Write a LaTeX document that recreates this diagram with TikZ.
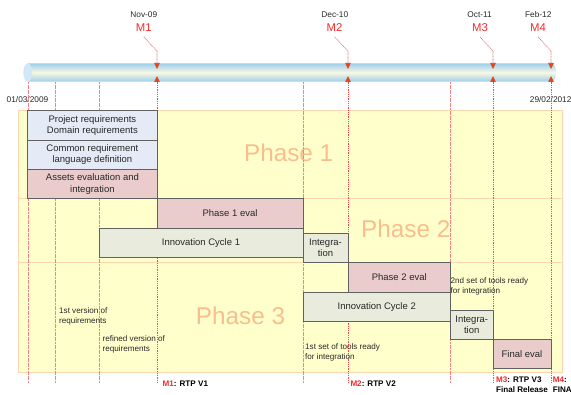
\documentclass[tikz,border=0pt]{standalone}
\usepackage{fontspec}
\setmainfont{Liberation Sans}
\usetikzlibrary{arrows.meta,positioning}
\definecolor{reqblue}{RGB}{228,235,247}
\definecolor{evalpink}{RGB}{234,204,204}
\definecolor{cyclegreen}{RGB}{233,236,221}
\definecolor{phaseyellow}{RGB}{255,255,204}
\definecolor{phaseedge}{RGB}{251,214,176}
\definecolor{phasetext}{RGB}{249,190,142}
\definecolor{barblue}{RGB}{158,205,236}
\definecolor{barlight}{RGB}{247,248,226}
\definecolor{barcap}{RGB}{210,232,246}
\definecolor{guidered}{RGB}{244,130,130}
\definecolor{mred}{RGB}{245,40,40}
\definecolor{tipred}{RGB}{226,72,30}
\definecolor{textgrey}{RGB}{40,40,40}

\begin{document}
\begin{tikzpicture}[x=1pt, y=-1pt,
    every node/.style={font=\fontsize{9.5}{11.3}\selectfont, text=textgrey},
    task/.style={draw=black!62, line width=0.7pt, minimum height=29.3pt,
      inner sep=0pt, outer sep=0pt, align=center},
    phasename/.style={font=\fontsize{24.3}{29}\selectfont, text=phasetext},
    note/.style={font=\fontsize{8.1}{10}\selectfont, inner sep=0pt, align=left, anchor=west},
    datelabel/.style={font=\fontsize{8.3}{10}\selectfont},
    mlabel/.style={font=\fontsize{11.3}{13}\selectfont, text=mred},
    mtext/.style={font=\fontsize{8.1}{10}\selectfont\bfseries, text=black, inner sep=0pt,
      align=left, anchor=west},
    guide/.style={draw=guidered, line width=0.5pt, dash pattern=on 2pt off 0.6pt},
    msline/.style={draw=mred!85, line width=0.8pt, dash pattern=on 1pt off 0.8pt,
      -{Triangle[width=5.5pt, length=6pt, color=tipred]}},
    pointer/.style={draw=guidered!90!black, line width=0.6pt, dash pattern=on 1pt off 0.6pt,
      -{Triangle[width=5.5pt, length=6pt, color=tipred]}}]
  \useasboundingbox (0,0) rectangle (571,395);

  % phase area
  \draw[phaseedge, fill=phaseyellow, line width=0.8pt] (18,110.7) rectangle (562,372);
  \draw[phaseedge, line width=0.8pt] (18,198.7) -- (562,198.7);
  \draw[phaseedge, line width=0.8pt] (18,262.7) -- (562,262.7);
  \node[phasename] (phase1) at (288.7,153.3) {Phase 1};
  \node[phasename] (phase2) at (405.8,229.3) {Phase 2};
  \node[phasename] (phase3) at (240.5,316) {Phase 3};

  % time bar
  \shade[top color=barblue, bottom color=barblue, middle color=barlight]
    (27.8,63.3) -- (551.5,63.3) arc[start angle=-90, end angle=90, x radius=4.5, y radius=9.2]
    -- (27.8,81.7) -- cycle;
  \fill[barcap] (27.8,72.5) ellipse[x radius=4.5, y radius=9.2];
  \node[datelabel] (start) at (27.5,99.3) {01/03/2009};
  \node[datelabel] (end) at (550.7,99.3) {29/02/2012};

  % guide lines
  \draw[guide] (27.8,82) -- (27.8,383);
  \draw[guide] (55,82) -- (55,383);
  \draw[guide] (99,82) -- (99,383);
  \draw[guide] (303,82) -- (303,383);
  \draw[guide] (450.5,82) -- (450.5,383);

  % milestones
  \node[datelabel] (d1) at (143.8,15) {Nov-09};
  \node[mlabel] (m1) at (143.8,28) {M1};
  \node[datelabel] (d2) at (334.8,15) {Dec-10};
  \node[mlabel] (m2) at (334.5,28) {M2};
  \node[datelabel] (d3) at (479.6,15) {Oct-11};
  \node[mlabel] (m3) at (480,28) {M3};
  \node[datelabel] (d4) at (538.3,15) {Feb-12};
  \node[mlabel] (m4) at (538,28) {M4};
  \coordinate (m1tip) at (157,69);
  \coordinate (m2tip) at (348,69);
  \coordinate (m3tip) at (493,69);
  \coordinate (m4tip) at (551,69);
  \coordinate (m1up) at (157,76);
  \coordinate (m2up) at (348,76);
  \coordinate (m3up) at (493,76);
  \coordinate (m4up) at (551,76);
  \coordinate (m1low) at (157,383);
  \coordinate (m2low) at (348,383);
  \coordinate (m3low) at (493,383);
  \coordinate (m4low) at (551,383);
  \draw[pointer] ([yshift=-1.5pt]m1.south) -- ([yshift=18pt]m1tip) -- (m1tip);
  \draw[pointer] ([yshift=-1.5pt]m2.south) -- ([yshift=18pt]m2tip) -- (m2tip);
  \draw[pointer] ([yshift=-1.5pt]m3.south) -- ([yshift=18pt]m3tip) -- (m3tip);
  \draw[pointer] ([yshift=-1.5pt]m4.south) -- ([yshift=18pt]m4tip) -- (m4tip);
  \draw[msline] (m1low) -- (m1up);
  \draw[msline] (m2low) -- (m2up);
  \draw[msline] (m3low) -- (m3up);
  \draw[msline] (m4low) -- (m4up);

  % tasks
  \node[task, fill=reqblue, minimum width=129.2pt, anchor=north west] (projreq) at (27.8,110.7)
    {Project requirements\\Domain requirements};
  \node[task, fill=reqblue, minimum width=129.2pt, below=0pt of projreq] (langdef)
    {Common requirement\\language definition};
  \node[task, fill=evalpink, minimum width=129.2pt, below=0pt of langdef] (assets)
    {Assets evaluation and\\integration};
  \node[task, fill=evalpink, minimum width=146pt, anchor=north west] (p1eval) at (assets.south east)
    {Phase 1 eval};
  \node[task, fill=cyclegreen, minimum width=204pt, anchor=north east] (cycle1) at (p1eval.south east)
    {Innovation Cycle 1};
  \node[task, fill=cyclegreen, minimum width=45pt, anchor=south west] (integ1) at (303,262.7)
    {Integra-\\tion};
  \node[task, fill=evalpink, minimum width=102.5pt, anchor=north west] (p2eval) at (integ1.south east)
    {Phase 2 eval};
  \node[task, fill=cyclegreen, minimum width=147.5pt, anchor=north east] (cycle2) at (p2eval.south east)
    {Innovation Cycle 2};
  \node[task, fill=cyclegreen, minimum width=42.5pt, anchor=north west] (integ2) at (450.5,310)
    {Integra-\\tion};
  \node[task, fill=evalpink, minimum width=58pt, anchor=north west] (finaleval) at (integ2.south east)
    {Final eval};

  % notes
  \node[note] (firstreq) at (59,316.7) {1st version of\\requirements};
  \node[note] (refinedreq) at (102.5,344) {refined version of\\requirements};
  \node[note] (firsttools) at (305,352.5) {1st set of tools ready\\for integration};
  \node[note] (secondtools) at (450.5,286.5) {2nd set of tools ready\\for integration};

  % deliverables
  \node[mtext] (rtp1) at (162.5,383.3) {\textcolor{mred}{M1}: RTP V1};
  \node[mtext] (rtp2) at (350.3,383.3) {\textcolor{mred}{M2}: RTP V2};
  \node[mtext] (rtp3) at (496,384.3) {\textcolor{mred}{M3}: RTP V3\\Final Release};
  \node[mtext] (rtp4) at (552.7,384.3) {\textcolor{mred}{M4}:\\FINA};
\end{tikzpicture}
\end{document}
